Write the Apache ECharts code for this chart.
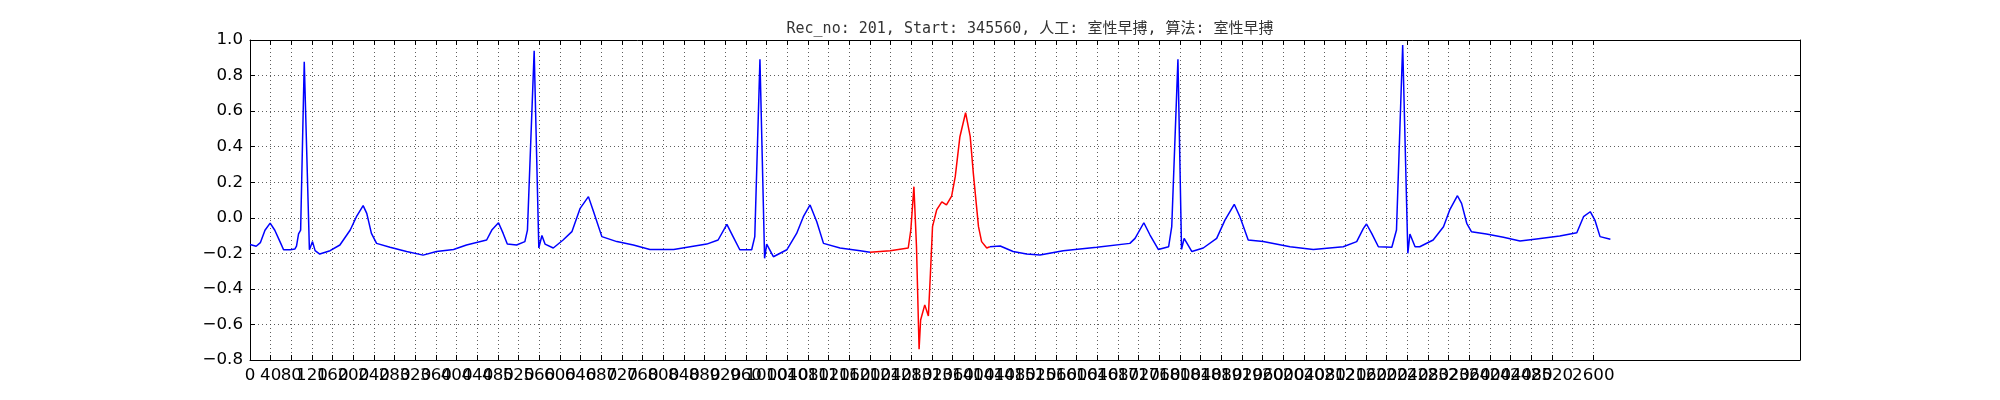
<!DOCTYPE html>
<html>
<head>
<meta charset="utf-8">
<script src="https://cdn.jsdelivr.net/npm/echarts@6/dist/echarts.min.js"></script>
<style>
html, body { margin: 0; padding: 0; background: #fff; }
#main { width: 2000px; height: 400px; }
</style>
</head>
<body>
<div id="main"></div>
<script>
// 标题
const chartTitle = 'Rec_no: 201, Start: 345560, 人工: 室性早搏, 算法: 室性早搏';

// 心电采样点 (采样序号 / 幅值)
const sampleIdx = [
	0, 12, 20, 29, 39, 48, 58, 65, 78, 87, 90, 94, 98, 105, 115, 121, 126, 135, 155, 174,
	194, 206, 219, 226, 235, 245, 271, 303, 335, 361, 394, 419, 458, 468, 481, 490, 498, 516, 532, 537,
	550, 559, 565, 571, 587, 606, 623, 639, 655, 665, 681, 710, 742, 774, 820, 884, 906, 923, 935, 948,
	971, 977, 987, 996, 1000, 1013, 1039, 1058, 1071, 1084, 1097, 1110, 1142, 1181, 1200, 1239, 1274, 1279, 1285, 1290,
	1295, 1298, 1306, 1313, 1317, 1321, 1329, 1339, 1348, 1358, 1365, 1374, 1385, 1394, 1400, 1410, 1416, 1426, 1432, 1452,
	1477, 1503, 1529, 1574, 1639, 1703, 1713, 1730, 1742, 1758, 1778, 1784, 1796, 1803, 1808, 1823, 1845, 1871, 1887, 1905,
	1916, 1932, 1961, 2013, 2058, 2116, 2142, 2155, 2161, 2171, 2184, 2210, 2219, 2231, 2241, 2245, 2255, 2264, 2290, 2310,
	2322, 2337, 2345, 2355, 2364, 2393, 2426, 2458, 2490, 2535, 2568, 2581, 2594, 2603, 2613, 2633
];
const ecgValues = [
	-0.15, -0.16, -0.14, -0.07, -0.03, -0.07, -0.134, -0.18, -0.18, -0.175, -0.16, -0.09, -0.07, 0.878, -0.18, -0.134, -0.185, -0.204, -0.185, -0.153,
	-0.069, 0.006, 0.068, 0.025, -0.088, -0.144, -0.166, -0.19, -0.21, -0.19, -0.178, -0.153, -0.125, -0.069, -0.028, -0.088, -0.148, -0.153, -0.134, -0.069,
	0.94, -0.17, -0.10, -0.148, -0.17, -0.125, -0.078, 0.053, 0.119, 0.034, -0.106, -0.134, -0.153, -0.178, -0.178, -0.148, -0.125, -0.037, -0.106, -0.18,
	-0.18, -0.106, 0.891, -0.228, -0.148, -0.219, -0.18, -0.088, 0.006, 0.072, -0.022, -0.144, -0.17, -0.185, -0.194, -0.185, -0.17, -0.069, 0.175, -0.163,
	-0.74, -0.575, -0.49, -0.553, -0.31, -0.05, 0.044, 0.09, 0.072, 0.122, 0.231, 0.456, 0.591, 0.456, 0.25, -0.05, -0.134, -0.17, -0.163, -0.159,
	-0.19, -0.204, -0.21, -0.185, -0.166, -0.144, -0.116, -0.028, -0.097, -0.178, -0.163, -0.05, 0.891, -0.178, -0.116, -0.19, -0.17, -0.116, -0.013, 0.076,
	0.006, -0.125, -0.134, -0.163, -0.178, -0.163, -0.134, -0.06, -0.035, -0.088, -0.163, -0.166, -0.069, 0.972, -0.2, -0.091, -0.163, -0.163, -0.125, -0.05,
	0.044, 0.124, 0.081, -0.031, -0.078, -0.091, -0.11, -0.131, -0.119, -0.103, -0.084, 0.006, 0.034, -0.013, -0.106, -0.121
];
// 室性早搏段 (红色)
const pvcStart = 1200;
const pvcEnd = 1432;

// 刻度
const xTicks = [];
for (let v = 0; v <= 2600; v += 40) xTicks.push(v);
const yTicks = [-0.8, -0.6, -0.4, -0.2, 0.0, 0.2, 0.4, 0.6, 0.8, 1.0];

let allPts = sampleIdx.map(function (s, i) { return [s, ecgValues[i]]; });
let prePts = allPts.filter(function (p) { return p[0] <= pvcStart; });
let pvcPts = allPts.filter(function (p) { return p[0] >= pvcStart && p[0] <= pvcEnd; });
let postPts = allPts.filter(function (p) { return p[0] >= pvcEnd; });

const labelFont = { color: '#000', fontSize: 16.7, fontFamily: 'DejaVu Sans' };
const gridLine = { show: true, lineStyle: { color: '#333', width: 0.8, type: [1, 3] } };
const frame = { show: true, onZero: false, lineStyle: { color: '#000', width: 1 } };
const tickIn = { show: true, inside: true, length: 5, lineStyle: { color: '#000', width: 1 } };

function yFmt(v) {
	return v.toFixed(1).replace('-', '\u2212');
}

function lineSeries(name, data, color) {
	return {
		name: name,
		type: 'line',
		data: data,
		showSymbol: false,
		lineStyle: { color: color, width: 1.5 },
		z: 3
	};
}

var myChart = echarts.init(document.getElementById('main'), null, { renderer: 'canvas' });
var option = {
	animation: false,
	backgroundColor: '#fff',
	title: {
		text: chartTitle,
		left: 1025,
		top: 17,
		textAlign: 'center',
		textStyle: { color: '#333', fontSize: 15, fontWeight: 'normal', fontFamily: "'DejaVu Sans Mono', 'Noto Sans CJK SC'" }
	},
	grid: { left: 250, right: 200, top: 40, bottom: 40, containLabel: false },
	xAxis: [{
		type: 'value', min: 0, max: 3000, position: 'bottom',
		axisLine: frame,
		axisTick: Object.assign({ customValues: xTicks }, tickIn),
		axisLabel: Object.assign({
			customValues: xTicks, margin: 7, showMinLabel: true, showMaxLabel: true, hideOverlap: false,
			formatter: function (v) { return String(v); }
		}, labelFont),
		splitLine: gridLine
	}, {
		type: 'value', min: 0, max: 3000, position: 'top',
		axisLine: frame,
		axisTick: Object.assign({ customValues: xTicks }, tickIn),
		axisLabel: { show: false },
		splitLine: { show: false }
	}],
	yAxis: [{
		type: 'value', min: -0.8, max: 1.0, position: 'left',
		axisLine: frame,
		axisTick: Object.assign({ customValues: yTicks }, tickIn),
		axisLabel: Object.assign({ customValues: yTicks, margin: 7, showMinLabel: true, showMaxLabel: true, formatter: yFmt }, labelFont),
		splitLine: gridLine
	}, {
		type: 'value', min: -0.8, max: 1.0, position: 'right',
		axisLine: frame,
		axisTick: Object.assign({ customValues: yTicks }, tickIn),
		axisLabel: { show: false },
		splitLine: { show: false }
	}],
	series: [
		lineSeries('ecg-pre', prePts, '#0000ff'),
		lineSeries('pvc', pvcPts, '#ff0000'),
		lineSeries('ecg-post', postPts, '#0000ff')
	]
};
myChart.setOption(option, true);
</script>
</body>
</html>
